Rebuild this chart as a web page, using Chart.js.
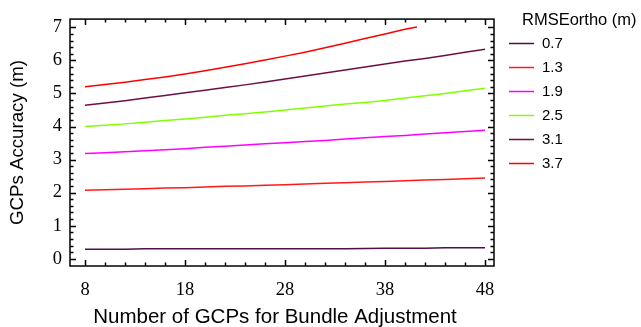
<!DOCTYPE html>
<html><head><meta charset="utf-8">
<script src="https://cdn.jsdelivr.net/npm/chart.js@4"></script>
<style>html,body{margin:0;padding:0;background:#fff}canvas{display:block}</style>
</head><body>
<canvas id="c" width="641" height="327"></canvas>
<script>
const gcps = [8,10,12,14,16,18,20,22,24,26,28,30,32,34,36,38,40,42,44,46,48];
const gcps37 = [8,10,12,14,16,18,20,22,24,26,28,30,32,34,36,38,40,41.2];
const rmse07 = [0.29,0.29,0.29,0.30,0.30,0.30,0.30,0.30,0.30,0.30,0.30,0.30,0.30,0.30,0.31,0.32,0.32,0.32,0.33,0.33,0.33];
const rmse13 = [2.07,2.09,2.10,2.12,2.14,2.15,2.17,2.19,2.20,2.22,2.24,2.26,2.28,2.30,2.32,2.34,2.36,2.38,2.40,2.42,2.44];
const rmse19 = [3.18,3.21,3.24,3.27,3.30,3.33,3.37,3.40,3.44,3.48,3.51,3.55,3.58,3.62,3.66,3.70,3.73,3.77,3.81,3.85,3.89];
const rmse25 = [4.00,4.04,4.08,4.13,4.18,4.23,4.28,4.34,4.39,4.44,4.50,4.56,4.62,4.68,4.73,4.79,4.86,4.93,5.00,5.08,5.16];
const rmse31 = [4.64,4.71,4.78,4.86,4.94,5.02,5.10,5.18,5.26,5.35,5.44,5.53,5.62,5.71,5.80,5.89,5.98,6.06,6.15,6.25,6.34];
const rmse37 = [5.20,5.27,5.34,5.42,5.50,5.59,5.69,5.79,5.90,6.01,6.13,6.25,6.38,6.52,6.66,6.80,6.94,7.01];
const seriesLabels = ['0.7','1.3','1.9','2.5','3.1','3.7'];
const seriesColors = ['#4d0f4d','#ff1a1a','#ff00ff','#80ff00','#6e0f44','#ff0000'];
const xTickLabels = [8,18,28,38,48];
const yTickLabels = [0,1,2,3,4,5,6,7];
const xTitle = 'Number of GCPs for Bundle Adjustment';
const yTitle = 'GCPs Accuracy (m)';
const legendTitle = 'RMSEortho (m)';

const allSeries = [[gcps,rmse07],[gcps,rmse13],[gcps,rmse19],[gcps,rmse25],[gcps,rmse31],[gcps37,rmse37]];
const datasets = allSeries.map((s,i)=>({
  label: seriesLabels[i],
  data: s[0].map((x,j)=>({x:x,y:s[1][j]})),
  borderColor: seriesColors[i],
  borderWidth: 1.5,
  pointRadius: 0,
  fill: false,
  tension: 0
}));

const framePlugin = {
  id:'frame',
  afterDatasetsDraw(chart){
    const ctx = chart.ctx, a = chart.chartArea, xs = chart.scales.x, ys = chart.scales.y;
    ctx.save();
    ctx.strokeStyle = '#000';
    ctx.lineWidth = 1.5;
    ctx.strokeRect(a.left, a.top, a.right-a.left, a.bottom-a.top);
    ctx.beginPath();
    for (let k=0;k<=35;k++){
      const v = k*0.2;
      const major = (k%5===0);
      const len = major?6:3.5;
      const py = Math.round(ys.getPixelForValue(v))+0.5;
      ctx.moveTo(a.left, py); ctx.lineTo(a.left+len, py);
      ctx.moveTo(a.right, py); ctx.lineTo(a.right-len, py);
    }
    for (let v=8; v<=48; v+=2){
      const major = ((v-8)%10===0);
      const len = major?6:3.5;
      const px = Math.round(xs.getPixelForValue(v))+0.5;
      ctx.moveTo(px, a.bottom); ctx.lineTo(px, a.bottom-len);
      ctx.moveTo(px, a.top); ctx.lineTo(px, a.top+len);
    }
    ctx.stroke();
    // x axis title
    ctx.fillStyle = '#000';
    ctx.textAlign = 'center';
    ctx.textBaseline = 'alphabetic';
    ctx.font = '20.5px "Liberation Sans", Arial, sans-serif';
    ctx.fillText(xTitle, 275, 323);
    // legend
    ctx.textBaseline = 'middle';
    ctx.textAlign = 'left';
    ctx.font = '16.5px "Liberation Sans", Arial, sans-serif';
    ctx.fillText(legendTitle, 522, 20);
    ctx.font = '15px "Liberation Sans", Arial, sans-serif';
    chart.data.datasets.forEach((d,i)=>{
      const y = 43 + i*24;
      ctx.strokeStyle = d.borderColor;
      ctx.lineWidth = 1.5;
      ctx.beginPath(); ctx.moveTo(509,y+0.5); ctx.lineTo(534,y+0.5); ctx.stroke();
      ctx.fillStyle = '#000';
      ctx.fillText(d.label, 542, y+1);
    });
    ctx.restore();
  }
};

new Chart(document.getElementById('c'), {
  type:'line',
  data:{datasets},
  options:{
    responsive:false,
    devicePixelRatio:1,
    animation:false,
    layout:{padding:{top:11,right:147,left:0,bottom:0}},
    plugins:{legend:{display:false},tooltip:{enabled:false}},
    scales:{
      x:{
        type:'linear', min:6.5, max:48.9,
        afterFit(s){ s.height = 61; },
        afterBuildTicks(s){ s.ticks = xTickLabels.map(v=>({value:v})); },
        grid:{display:false, drawTicks:false},
        border:{display:false},
        ticks:{color:'#000', padding:13, maxRotation:0, autoSkip:false,
          font:{family:'"Liberation Serif", "Times New Roman", serif', size:18.5}},
        title:{display:false}
      },
      y:{
        type:'linear', min:-0.22, max:7.25,
        afterFit(s){ s.width = 70; },
        afterBuildTicks(s){ s.ticks = yTickLabels.map(v=>({value:v})); },
        grid:{display:false, drawTicks:false},
        border:{display:false},
        ticks:{color:'#000', padding:8, autoSkip:false,
          font:{family:'"Liberation Serif", "Times New Roman", serif', size:18.5}},
        title:{display:true, text:yTitle, color:'#000',
          font:{family:'"Liberation Sans", Arial, sans-serif', size:18.7},
          padding:{top:7,bottom:0}}
      }
    }
  },
  plugins:[framePlugin]
});
</script>
</body></html>
